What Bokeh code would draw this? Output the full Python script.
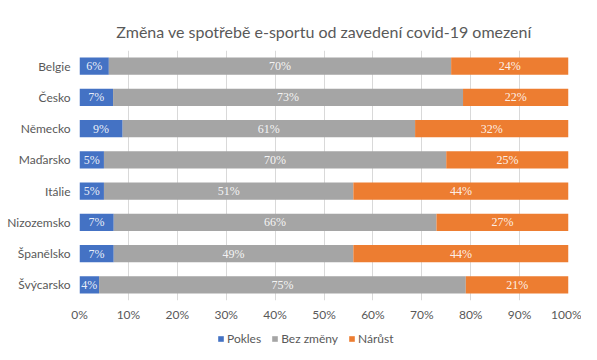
from bokeh.plotting import figure
from bokeh.layouts import column
from bokeh.models import ColumnDataSource, FactorRange, LabelSet, Legend, LegendItem, Range1d, NumeralTickFormatter, FixedTicker, Title
from bokeh.embed import file_html
from bokeh.resources import INLINE

countries = ["Belgie", "Česko", "Německo", "Maďarsko", "Itálie", "Nizozemsko", "Španělsko", "Švýcarsko"]
pokles = [6, 7, 9, 5, 5, 7, 7, 4]
bez_zmeny = [70, 73, 61, 70, 51, 66, 49, 75]
narust = [24, 22, 32, 25, 44, 27, 44, 21]
series = ["Pokles", "Bez změny", "Nárůst"]
colors = ["#4472C4", "#A5A5A5", "#ED7D31"]
ticks = [0, 0.1, 0.2, 0.3, 0.4, 0.5, 0.6, 0.7, 0.8, 0.9, 1.0]

FONT = "Lato"

totals = [a + b + c for a, b, c in zip(pokles, bez_zmeny, narust)]
p_n = [a / t for a, t in zip(pokles, totals)]
b_n = [b / t for b, t in zip(bez_zmeny, totals)]
n_n = [c / t for c, t in zip(narust, totals)]

src = ColumnDataSource(dict(country=countries, Pokles=p_n, Bez=b_n, Narust=n_n))

p = figure(width=581, height=326, output_backend="svg", toolbar_location=None,
           y_range=FactorRange(*list(reversed(countries)), range_padding=0),
           x_range=Range1d(0, 1),
           min_border_left=79, min_border_right=13, min_border_top=50, min_border_bottom=26)
p.title = None
t = Title(text="Změna ve spotřebě e-sportu od zavedení covid-19 omezení", align="center",
          text_font=FONT, text_font_size="16px", text_font_style="normal", text_color="#595959",
          offset=-10, standoff=19)
p.add_layout(t, "above")

renderers = p.hbar_stack(["Pokles", "Bez", "Narust"], y="country", height=0.55,
                         color=colors, source=src, line_color=None)

# labels
lefts = [0.0] * len(countries)
for vals_n, vals in [(p_n, pokles), (b_n, bez_zmeny), (n_n, narust)]:
    mids = [l + v / 2 for l, v in zip(lefts, vals_n)]
    ls = ColumnDataSource(dict(x=mids, y=countries, t=[f"{v}%" for v in vals]))
    p.add_layout(LabelSet(x="x", y="y", text="t", source=ls, text_align="center",
                          text_baseline="middle", text_color="white", text_alpha=0.9,
                          text_font=FONT, text_font_size="12px"))
    lefts = [l + v for l, v in zip(lefts, vals_n)]

for ax in (p.xaxis, p.yaxis):
    ax.axis_line_color = None
    ax.major_tick_line_color = None
    ax.minor_tick_line_color = None
    ax.major_tick_out = 0
    ax.major_tick_in = 0
    ax.minor_tick_out = 0
    ax.minor_tick_in = 0
    ax.major_label_text_font = FONT
    ax.major_label_text_font_size = "12px"
    ax.major_label_text_color = "#595959"

p.xaxis.ticker = FixedTicker(ticks=ticks)
p.xaxis.formatter = NumeralTickFormatter(format="0%")
p.xaxis.major_label_standoff = 6
p.yaxis.major_label_standoff = 9

p.xgrid.grid_line_color = "#D9D9D9"
p.xgrid.ticker = FixedTicker(ticks=ticks)
p.ygrid.grid_line_color = None
p.outline_line_color = None
p.background_fill_color = "white"
p.border_fill_color = "white"

# legend strip
q = figure(width=581, height=22, output_backend="svg", toolbar_location=None,
           x_range=Range1d(0, 1), y_range=Range1d(0, 1),
           min_border_left=0, min_border_right=0, min_border_top=0, min_border_bottom=0)
q.axis.visible = False
q.grid.visible = False
q.outline_line_color = None
q.background_fill_color = "white"
q.border_fill_color = "white"
dummies = [q.hbar(y=[0.5], left=[0], right=[0], height=0, color=c, line_color=None) for c in colors]
legend = Legend(items=[LegendItem(label=s, renderers=[r]) for s, r in zip(series, dummies)],
                orientation="horizontal", location=(138, 2),
                label_text_font=FONT, label_text_font_size="12px", label_text_color="#595959",
                glyph_width=7, glyph_height=7, label_standoff=3, spacing=10,
                label_height=12,
                background_fill_alpha=0, border_line_color=None, padding=0, margin=0)
q.add_layout(legend, "center")

open("out.html", "w").write(file_html(column(p, q, spacing=0), INLINE))
